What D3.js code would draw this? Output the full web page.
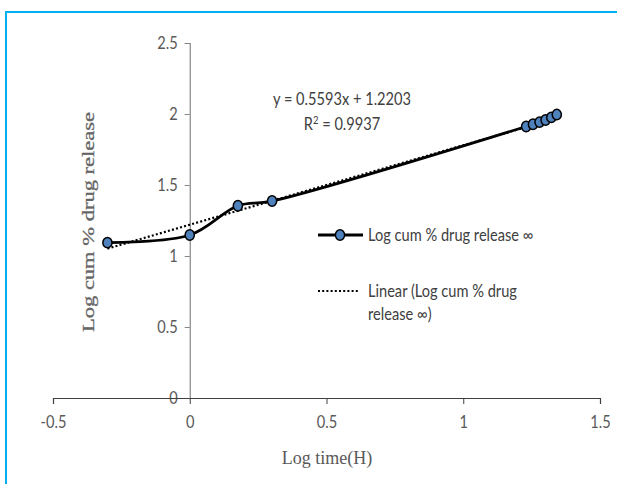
<!DOCTYPE html>
<html>
<head>
<meta charset="utf-8">
<script src="https://cdn.jsdelivr.net/npm/d3@7"></script>
<style>
  html, body { margin: 0; padding: 0; background: #fff; }
  svg { display: block; }
</style>
</head>
<body>
<svg id="chart" width="617" height="484"></svg>
<script>
// Log time (h) versus log cumulative % drug release
const logTime = [-0.301, 0, 0.176, 0.301, 1.230, 1.255, 1.279, 1.301, 1.322, 1.342];
const logRelease = [1.094, 1.148, 1.354, 1.387, 1.912, 1.928, 1.943, 1.958, 1.976, 1.996];
const xTicks = [-0.5, 0, 0.5, 1, 1.5];
const yTicks = [0, 0.5, 1, 1.5, 2, 2.5];
const slope = 0.5593, intercept = 1.2203, r2 = "0.9937";
const seriesName = "Log cum % drug release \u221e";
const trendName = ["Linear (Log cum % drug", "release \u221e)"];

const svg = d3.select("#chart");
const sans = "Lato, 'Open Sans', sans-serif";
const serif = "'Liberation Serif', 'DejaVu Serif', serif";
const squeeze = 0.86;   // narrow the sans labels horizontally
const narrowAt = ax => `translate(${ax},0) scale(${squeeze},1) translate(${-ax},0)`;

// chart frame
svg.append("path")
  .attr("d", "M6,484 L6,12 L617,12")
  .attr("fill", "none").attr("stroke", "#00B0F0").attr("stroke-width", 2);

const x = d3.scaleLinear().domain([-0.5, 1.5]).range([53, 600]);
const y = d3.scaleLinear().domain([0, 2.5]).range([398, 43]);
const plain = d => String(d);

// y axis positioned at x = 0
const yAxis = svg.append("g")
  .attr("transform", `translate(${x(0)},0)`)
  .call(d3.axisLeft(y).tickValues(yTicks).tickFormat(plain).tickSize(5).tickPadding(7));
yAxis.select(".domain").attr("stroke", "#868686").attr("stroke-width", 1.2);
yAxis.selectAll(".tick line").attr("stroke", "#868686");
yAxis.selectAll("text").attr("fill", "#595959").style("font-family", sans).style("font-size", "17px")
  .attr("transform", narrowAt(-12));

// x axis positioned at y = 0
const xAxis = svg.append("g")
  .attr("transform", `translate(0,${y(0)})`)
  .call(d3.axisBottom(x).tickValues(xTicks).tickFormat(plain).tickSize(6).tickPadding(12));
xAxis.select(".domain").attr("stroke", "#404040").attr("stroke-width", 1.2);
xAxis.selectAll(".tick line").attr("stroke", "#404040");
xAxis.selectAll("text").attr("fill", "#595959").style("font-family", sans).style("font-size", "17px")
  .attr("transform", narrowAt(0));

// axis titles
svg.append("text")
  .attr("x", 327).attr("y", 464)
  .attr("text-anchor", "middle")
  .attr("fill", "#595959")
  .style("font-family", serif).style("font-size", "18px")
  .text("Log time(H)");

svg.append("text")
  .attr("transform", "translate(94,222) rotate(-90)")
  .attr("text-anchor", "middle")
  .attr("fill", "#666")
  .attr("textLength", 220).attr("lengthAdjust", "spacingAndGlyphs")
  .style("font-family", serif).style("font-size", "17px")
  .style("stroke", "#666").style("stroke-width", 0.3)
  .text("Log cum % drug release");

// linear trendline (dotted)
const xMin = d3.min(logTime), xMax = d3.max(logTime);
svg.append("line")
  .attr("x1", x(xMin)).attr("y1", y(slope * xMin + intercept))
  .attr("x2", x(xMax)).attr("y2", y(slope * xMax + intercept))
  .attr("stroke", "#000").attr("stroke-width", 2.2)
  .attr("stroke-dasharray", "2,2.2");

// smoothed data series
const pts = logTime.map((t, i) => [t, logRelease[i]]);
svg.append("path")
  .datum(pts)
  .attr("fill", "none").attr("stroke", "#000").attr("stroke-width", 2.8)
  .attr("d", d3.line().x(d => x(d[0])).y(d => y(d[1])).curve(d3.curveCatmullRom.alpha(0.5)));

svg.append("g").selectAll("ellipse")
  .data(pts).join("ellipse")
  .attr("cx", d => x(d[0])).attr("cy", d => y(d[1]))
  .attr("rx", 4.6).attr("ry", 5.2)
  .attr("fill", "#4F81BD").attr("stroke", "#000").attr("stroke-width", 1.5);

// regression equation
const eq = svg.append("text")
  .attr("text-anchor", "middle")
  .attr("transform", narrowAt(342))
  .attr("fill", "#404040")
  .style("font-family", sans).style("font-size", "17px");
eq.append("tspan").attr("x", 342).attr("y", 105).text(`y = ${slope}x + ${intercept}`);
const r2Line = eq.append("tspan").attr("x", 342).attr("y", 130);
r2Line.append("tspan").text("R");
r2Line.append("tspan").attr("dy", -6).style("font-size", "11px").text("2");
r2Line.append("tspan").attr("dy", 6).text(` = ${r2}`);

// legend
const lg = svg.append("g");
lg.append("line").attr("x1", 318).attr("x2", 363).attr("y1", 235).attr("y2", 235)
  .attr("stroke", "#000").attr("stroke-width", 2.8);
lg.append("ellipse").attr("cx", 340).attr("cy", 235).attr("rx", 4.6).attr("ry", 5.2)
  .attr("fill", "#4F81BD").attr("stroke", "#000").attr("stroke-width", 1.5);
lg.append("text").attr("x", 368).attr("y", 241)
  .attr("transform", narrowAt(368))
  .attr("fill", "#404040").style("font-family", sans).style("font-size", "17px")
  .text(seriesName);
lg.append("line").attr("x1", 318).attr("x2", 360).attr("y1", 291).attr("y2", 291)
  .attr("stroke", "#000").attr("stroke-width", 2.2).attr("stroke-dasharray", "2,2.2");
const lt = lg.append("text").attr("fill", "#404040")
  .attr("transform", narrowAt(368))
  .style("font-family", sans).style("font-size", "17px");
lt.append("tspan").attr("x", 368).attr("y", 297).text(trendName[0]);
lt.append("tspan").attr("x", 368).attr("y", 320).text(trendName[1]);
</script>
</body>
</html>
